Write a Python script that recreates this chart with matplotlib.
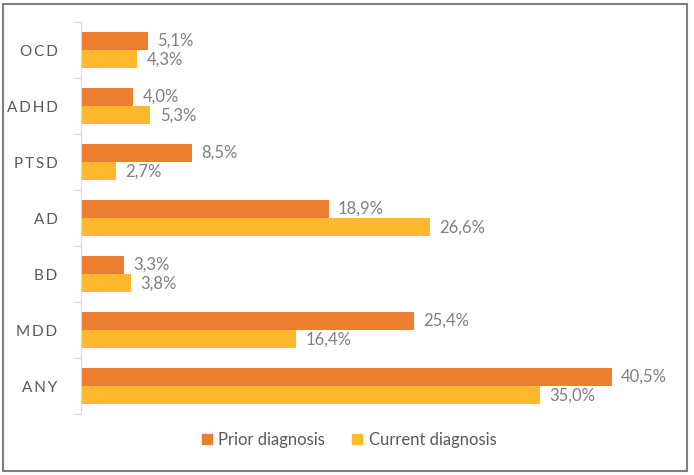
import matplotlib
matplotlib.use("Agg")
import matplotlib.pyplot as plt
from matplotlib.patches import Rectangle, Patch
import numpy as np

categories = ["OCD", "ADHD", "PTSD", "AD", "BD", "MDD", "ANY"]
prior = [5.1, 4.0, 8.5, 18.9, 3.3, 25.4, 40.5]
current = [4.3, 5.3, 2.7, 26.6, 3.8, 16.4, 35.0]
series_names = ["Prior diagnosis", "Current diagnosis"]

ORANGE = "#ED7D31"
YELLOW = "#FDB92B"
TXT = "#595959"
LBL = "#7F7F7F"

plt.rcParams['font.family'] = ['Lato', 'DejaVu Sans']

fig = plt.figure(figsize=(6.94, 4.75), dpi=100)
ax = fig.add_axes([81/694, 1-414/475, (671-81)/694, (414-22)/475])

y = np.arange(len(categories))
h = 0.33
ax.barh(y - h/2, prior, height=h, color=ORANGE, label=series_names[0])
ax.barh(y + h/2, current, height=h, color=YELLOW, label=series_names[1])

for yi, v in zip(y - h/2, prior):
    ax.text(v + 0.7, yi, f"{v:.1f}%".replace(".", ","), va="center", ha="left",
            fontsize=12, color=LBL)
for yi, v in zip(y + h/2, current):
    ax.text(v + 0.7, yi, f"{v:.1f}%".replace(".", ","), va="center", ha="left",
            fontsize=12, color=LBL)

ax.set_xlim(0, 45)
ax.set_ylim(len(categories) - 0.5, -0.5)
ax.set_xticks([])
ax.set_yticks(y)
ax.set_yticklabels(["\u2009".join(c) for c in categories], fontsize=11, color=TXT)
ax.tick_params(axis="y", which="major", length=0, pad=17)
ax.set_yticks(np.arange(-0.5, len(categories)), minor=True)
ax.tick_params(axis="y", which="minor", length=5, color="#D9D9D9", width=1)
for s in ["top", "right", "bottom"]:
    ax.spines[s].set_visible(False)
ax.spines["left"].set_color("#D9D9D9")

handles = [Patch(color=ORANGE), Patch(color=YELLOW)]
fig.legend(handles, series_names, loc="center", bbox_to_anchor=(349/694, 1-440/475),
           ncol=2, frameon=False, fontsize=12, handlelength=0.6, handleheight=0.6,
           handletextpad=0.4, columnspacing=1.6, labelcolor=TXT)

fig.patches.append(Rectangle((3/694, 1-471/475), (687-3)/694, (471-4)/475,
                             transform=fig.transFigure, fill=False,
                             edgecolor="#7F7F7F", linewidth=1.5))

fig.savefig("out.png", dpi=100)
